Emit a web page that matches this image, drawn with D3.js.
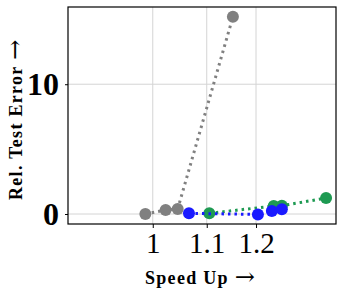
<!DOCTYPE html>
<html>
<head>
<meta charset="utf-8">
<script src="https://cdn.jsdelivr.net/npm/d3@7"></script>
<style>
  body { margin: 0; background: #fff; }
</style>
</head>
<body>
<div id="chart"></div>
<script>
// Series data (speed up, relative test error)
const graySpeed = [0.987, 1.023, 1.045, 1.152];
const grayError = [0.0, 0.31, 0.39, 15.19];
const blueSpeed = [1.066, 1.204, 1.234, 1.256];
const blueError = [0.05, -0.03, 0.23, 0.36];
const greenSpeed = [1.105, 1.238, 1.256, 1.358];
const greenError = [0.05, 0.62, 0.64, 1.23];
const xTicks = [1, 1.1, 1.2];
const yTicks = [0, 10];

const totalWidth = 342;
const totalHeight = 296;
const margin = { top: 7, right: 6, bottom: 72, left: 68 };
const width = totalWidth - margin.left - margin.right;
const height = totalHeight - margin.top - margin.bottom;

const fontFamily = 'Liberation Serif, Times New Roman, serif';

const xScale = d3.scaleLog().domain([0.861, 1.382]).range([0, width]);
const yScale = d3.scaleLinear().domain([-0.77, 15.95]).range([height, 0]);

const svg = d3
  .select('#chart')
  .append('svg')
  .attr('width', totalWidth)
  .attr('height', totalHeight)
  .append('g')
  .attr('transform', `translate(${margin.left}, ${margin.top})`);

// Grid lines
svg
  .selectAll('.xgrid')
  .data(xTicks)
  .join('line')
  .attr('x1', (d) => xScale(d))
  .attr('x2', (d) => xScale(d))
  .attr('y1', 0)
  .attr('y2', height)
  .attr('stroke', '#d4d4d4')
  .attr('stroke-width', 1);

svg
  .selectAll('.ygrid')
  .data(yTicks)
  .join('line')
  .attr('x1', 0)
  .attr('x2', width)
  .attr('y1', (d) => yScale(d))
  .attr('y2', (d) => yScale(d))
  .attr('stroke', '#d4d4d4')
  .attr('stroke-width', 1);

// Axes
const xAxis = svg
  .append('g')
  .attr('transform', `translate(0, ${height})`)
  .call(d3.axisBottom(xScale).tickValues(xTicks).tickFormat(d3.format('')).tickSize(4).tickPadding(4));
xAxis.select('.domain').remove();
xAxis
  .selectAll('text')
  .attr('font-family', fontFamily)
  .attr('font-size', 29)
  .attr('fill', '#000');

const yAxis = svg
  .append('g')
  .call(d3.axisLeft(yScale).tickValues(yTicks).tickSize(3).tickPadding(6));
yAxis.select('.domain').remove();
yAxis
  .selectAll('text')
  .attr('font-family', fontFamily)
  .attr('font-weight', 'bold')
  .attr('font-size', 32)
  .attr('fill', '#000');

// Frame
svg
  .append('rect')
  .attr('width', width)
  .attr('height', height)
  .attr('fill', 'none')
  .attr('stroke', '#000')
  .attr('stroke-width', 1.2);

// Series
const series = [
  { speed: graySpeed, error: grayError, color: '#808080' },
  { speed: greenSpeed, error: greenError, color: '#1e9a52' },
  { speed: blueSpeed, error: blueError, color: '#1a1aff' },
];

const line = d3
  .line()
  .x((d) => xScale(d[0]))
  .y((d) => yScale(d[1]));

series.forEach((s) => {
  const pts = s.speed.map((v, i) => [v, s.error[i]]);
  svg
    .append('path')
    .datum(pts)
    .attr('d', line)
    .attr('fill', 'none')
    .attr('stroke', s.color)
    .attr('stroke-width', 3)
    .attr('stroke-dasharray', '2.5,4');
  svg
    .selectAll(null)
    .data(pts)
    .join('circle')
    .attr('cx', (d) => xScale(d[0]))
    .attr('cy', (d) => yScale(d[1]))
    .attr('r', 6)
    .attr('fill', s.color);
});

// Axis labels, arrow drawn in a font with a wide glyph
const addLabel = (g, label) => {
  g.append('tspan').attr('letter-spacing', 1.3).text(label + ' ');
  g.append('tspan')
    .attr('font-family', 'DejaVu Serif, serif')
    .attr('font-weight', 'normal')
    .attr('font-size', 24)
    .attr('dy', 1)
    .text('→');
};

const xLabel = svg
  .append('text')
  .attr('x', 77)
  .attr('y', 277)
  .attr('font-family', fontFamily)
  .attr('font-weight', 'bold')
  .attr('font-size', 18);
addLabel(xLabel, 'Speed Up');

const yLabel = svg
  .append('text')
  .attr('transform', `translate(-46, 193) rotate(-90)`)
  .attr('font-family', fontFamily)
  .attr('font-weight', 'bold')
  .attr('font-size', 18);
addLabel(yLabel, 'Rel. Test Error');
</script>
</body>
</html>
